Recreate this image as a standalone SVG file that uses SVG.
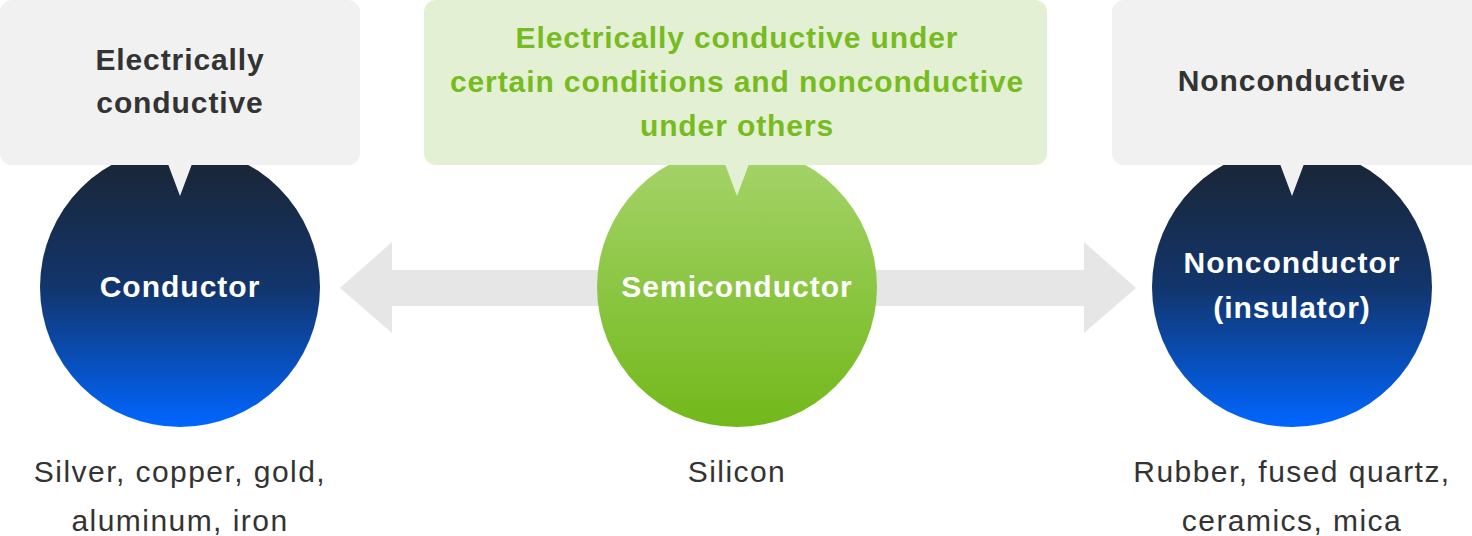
<svg xmlns="http://www.w3.org/2000/svg" width="1472" height="536" viewBox="0 0 1472 536">
  <defs>
    <linearGradient id="blueGrad" x1="0" y1="0" x2="0" y2="1">
      <stop offset="0" stop-color="#1b2430"/>
      <stop offset="0.5" stop-color="#12356c"/>
      <stop offset="1" stop-color="#0066ff"/>
    </linearGradient>
    <linearGradient id="greenGrad" x1="0" y1="0" x2="0" y2="1">
      <stop offset="0" stop-color="#a6d46c"/>
      <stop offset="1" stop-color="#72b81a"/>
    </linearGradient>
  </defs>
  <style>
    .box { fill: #f1f1f1; }
    .gbox { fill: #e4f0d3; }
    .arrow { fill: #e6e6e6; }
    .head { font-family: "Liberation Sans", Arial, sans-serif; font-weight: bold; font-size: 30px; letter-spacing: 0.9px; fill: #333333; text-anchor: middle; }
    .ghead { font-family: "Liberation Sans", Arial, sans-serif; font-weight: bold; font-size: 30px; letter-spacing: 0.9px; fill: #77bc1f; text-anchor: middle; }
    .label { font-family: "Liberation Sans", Arial, sans-serif; font-weight: bold; font-size: 30px; letter-spacing: 1px; fill: #ffffff; text-anchor: middle; }
    .ex { font-family: "Liberation Sans", Arial, sans-serif; font-size: 30px; letter-spacing: 1.45px; fill: #333333; text-anchor: middle; }
  </style>

  <g id="connectors">
    <polygon class="arrow" points="340,288 392,242 392,270 610,270 610,306 392,306 392,333"/>
    <polygon class="arrow" points="1136,288 1084,242 1084,270 866,270 866,306 1084,306 1084,333"/>
  </g>

  <g id="conductor">
    <circle cx="180" cy="287" r="140" fill="url(#blueGrad)"/>
    <text class="label" x="180" y="297">Conductor</text>
    <rect class="box" x="0" y="0" width="360" height="165" rx="12"/>
    <polygon class="box" points="168,164 192,164 180,196"/>
    <text class="head" x="180" y="70">Electrically</text>
    <text class="head" x="180" y="113">conductive</text>
    <text class="ex" x="180" y="482">Silver, copper, gold,</text>
    <text class="ex" x="180" y="531">aluminum, iron</text>
  </g>

  <g id="semiconductor">
    <circle cx="737" cy="287" r="140" fill="url(#greenGrad)"/>
    <text class="label" x="737" y="297">Semiconductor</text>
    <rect class="gbox" x="424" y="0" width="623" height="165" rx="12"/>
    <polygon class="gbox" points="725,164 749,164 737,196"/>
    <text class="ghead" x="737" y="48">Electrically conductive under</text>
    <text class="ghead" x="737" y="92">certain conditions and nonconductive</text>
    <text class="ghead" x="737" y="136">under others</text>
    <text class="ex" x="737" y="482">Silicon</text>
  </g>

  <g id="nonconductor">
    <circle cx="1292" cy="287" r="140" fill="url(#blueGrad)"/>
    <text class="label" x="1292" y="273">Nonconductor</text>
    <text class="label" x="1292" y="318">(insulator)</text>
    <rect class="box" x="1112" y="0" width="372" height="165" rx="12"/>
    <polygon class="box" points="1280,164 1304,164 1292,196"/>
    <text class="head" x="1292" y="91">Nonconductive</text>
    <text class="ex" x="1292" y="482">Rubber, fused quartz,</text>
    <text class="ex" x="1292" y="531">ceramics, mica</text>
  </g>
</svg>
